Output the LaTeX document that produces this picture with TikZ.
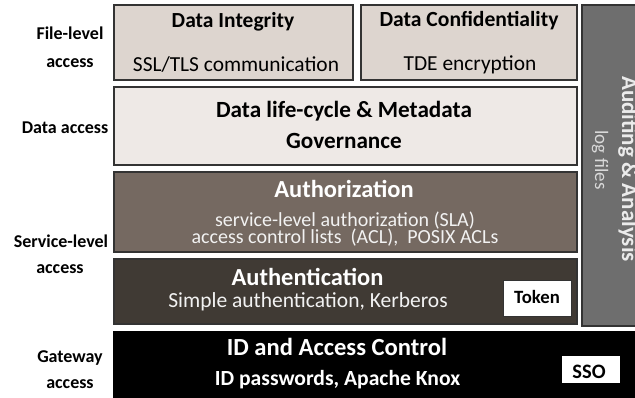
\documentclass[tikz,border=0pt]{standalone}
\usepackage{fontspec}
\setmainfont{Carlito}
\begin{document}
\begin{tikzpicture}[x=1pt,y=-1pt,
  box/.style={draw=black!80,line width=1.3pt},
  txt/.style={anchor=base,inner sep=0pt},
  fs/.style={font=\fontsize{#1}{#1}\selectfont},
  fb/.style={font=\fontsize{#1}{#1}\selectfont\bfseries},
  tag/.style={fill=white,draw=black!80,line width=0.6pt,inner sep=0pt}]
\definecolor{cTop}{HTML}{DDD5CF}
\definecolor{cData}{HTML}{EEE9E6}
\definecolor{cAuthz}{HTML}{756961}
\definecolor{cAuthn}{HTML}{403A34}
\definecolor{cAudit}{HTML}{6E6E6E}
\useasboundingbox (0,0) rectangle (635,397);
\begin{scope}
\clip (0,0) rectangle (635,397);
% boxes
\draw[box,fill=cTop] (114,5) rectangle (353,80);
\draw[box,fill=cTop] (361,5) rectangle (577,80);
\draw[box,fill=cData] (114,87) rectangle (577,165);
\draw[box,fill=cAuthz] (114,172) rectangle (577,252);
\draw[box,fill=cAuthn] (114,259) rectangle (577,324);
\draw[box,fill=cAudit] (582,5) rectangle (660,326);
\fill[black] (113,331) rectangle (640,400);
\node[txt,fb=23,text=white!92!black,rotate=-90] (au) at (622,169) {Auditing \& Analysis};
\end{scope}
\node[tag,minimum width=68pt,minimum height=36pt] (tokbox) at (537,298) {};
\node[tag,draw=none,minimum width=58pt,minimum height=27pt] (ssobox) at (591,369.5) {};
% texts
\node[txt,fb=21.5] (di) at (233,27) {Data Integrity};
\node[txt,fs=21.4] (ssl) at (236,71) {SSL/TLS communication};
\node[txt,fb=21.6] (dc) at (469,26.5) {Data Confidentiality};
\node[txt,fs=21.4] (tde) at (470,70) {TDE encryption};
\node[txt,fb=23.2] (dl1) at (344,117) {Data life-cycle \& Metadata};
\node[txt,fb=23.2] (dl2) at (344,148) {Governance};
\node[txt,fb=24.5,text=white] (az) at (344,197) {Authorization};
\node[txt,fs=20,text=white!95!black] (az1) at (345,226) {service-level authorization (SLA)};
\node[txt,fs=20,text=white!95!black] (az2) at (345,243) {access control lists~ (ACL),~ POSIX ACLs};
\node[txt,fb=24.5,text=white] (an) at (307.5,285) {Authentication};
\node[txt,fs=21.5,text=white!95!black] (an1) at (308,307.5) {Simple authentication, Kerberos};
\node[txt,fb=18.75] (tok) at (537,303) {Token};
\node[txt,fb=24.6,text=white] (id) at (337,355) {ID and Access Control};
\node[txt,fb=21.6,text=white] (id2) at (337.5,385) {ID passwords, Apache Knox};
\node[txt,fb=20.5] (sso) at (589,378) {SSO};
\node[txt,fs=19,text=white!85!black,rotate=-90] (lf) at (595,160) {log files};
% left labels
\node[txt,fb=18] (l1) at (70,39) {File-level};
\node[txt,fb=18] (l2) at (70,67) {access};
\node[txt,fb=18] (l3) at (65,133) {Data access};
\node[txt,fb=18] (l4) at (61,247) {Service-level};
\node[txt,fb=18] (l5) at (60,273) {access};
\node[txt,fb=18] (l6) at (70,362) {Gateway};
\node[txt,fb=18] (l7) at (70,388) {access};
\end{tikzpicture}
\end{document}
